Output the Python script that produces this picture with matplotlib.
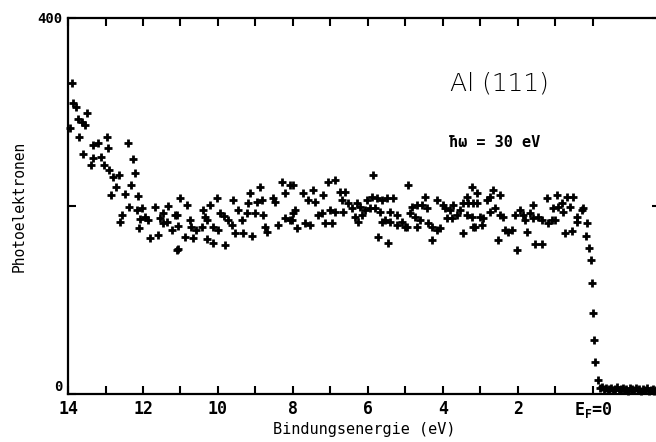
import numpy as np
import matplotlib
matplotlib.use('Agg')
import matplotlib.pyplot as pl

# (binding energy eV, counts)
onset = [(13.89, 331), (13.87, 310), (13.95, 283), (13.79, 305), (13.73, 293),
         (13.63, 289), (13.49, 299), (13.55, 286), (13.71, 273), (13.60, 255),
         (13.33, 265), (13.20, 267), (12.96, 273), (12.40, 267), (12.93, 262),
         (13.33, 251), (13.12, 252), (13.39, 244), (13.04, 244), (12.90, 238),
         (12.80, 231), (12.64, 233), (12.72, 220), (12.27, 250), (12.21, 235),
         (12.32, 222), (12.85, 212), (12.48, 213), (12.13, 211), (12.37, 199),
         (12.56, 190), (12.61, 183), (12.16, 196), (12.03, 198), (12.08, 186),
         (11.95, 188), (12.11, 177), (11.87, 185), (11.81, 166), (11.60, 169),
         (11.68, 199), (11.55, 187), (11.47, 193), (11.33, 200), (11.36, 183),
         (11.23, 174), (11.15, 190), (11.09, 153), (11.47, 182)]

band_11_8 = [(11.01, 208), (10.83, 201), (11.09, 190), (11.07, 179), (11.07, 154),
             (10.75, 185), (10.72, 178), (10.59, 174), (10.88, 167), (10.67, 166),
             (10.40, 196), (10.21, 201), (10.35, 188), (10.29, 185), (10.43, 178),
             (10.13, 178), (10.00, 174), (10.03, 208), (9.95, 193), (10.29, 165),
             (10.13, 161), (9.81, 158), (9.84, 189), (9.73, 185), (9.63, 180),
             (9.60, 206), (9.47, 196), (9.36, 185), (9.55, 171), (9.33, 171),
             (9.09, 168), (9.23, 193), (9.20, 203), (9.15, 214), (9.01, 193),
             (8.96, 204), (8.83, 206), (8.88, 220), (8.80, 190), (8.75, 178),
             (8.69, 172), (8.53, 208), (8.48, 204), (8.29, 226), (8.08, 222),
             (8.21, 214), (8.40, 180), (8.21, 187), (8.08, 185), (8.00, 193)]

band_8_5 = [(8.00, 222), (7.95, 196), (8.03, 185), (7.89, 177), (7.73, 214),
            (7.60, 206), (7.47, 217), (7.41, 204), (7.20, 212), (7.23, 193),
            (7.33, 190), (7.68, 182), (7.55, 180), (7.15, 182), (6.96, 182),
            (7.07, 226), (6.88, 228), (7.01, 196), (6.88, 194), (6.75, 215),
            (6.61, 215), (6.69, 206), (6.53, 203), (6.67, 194), (6.43, 198),
            (6.29, 203), (6.21, 199), (6.35, 188), (6.16, 190), (6.08, 196),
            (6.27, 183), (6.03, 206), (5.89, 210), (5.76, 208), (5.63, 206),
            (5.49, 208), (5.33, 208), (5.87, 233), (5.95, 198), (5.81, 198),
            (5.68, 194), (5.55, 185), (5.63, 183), (5.41, 194), (5.41, 183),
            (5.23, 190), (5.23, 180), (5.09, 183), (5.01, 178), (5.73, 167),
            (5.47, 161)]

band_5_2 = [(4.93, 222), (4.83, 199), (4.88, 193), (4.69, 201), (4.56, 201),
            (4.43, 198), (4.48, 210), (4.75, 188), (4.61, 185), (4.96, 178),
            (4.69, 178), (4.40, 182), (4.29, 178), (4.16, 174), (4.08, 177),
            (4.29, 164), (4.16, 206), (4.00, 201), (3.95, 198), (3.81, 196),
            (3.73, 201), (3.89, 187), (3.76, 187), (3.63, 190), (3.55, 196),
            (3.47, 203), (3.36, 210), (3.23, 220), (3.09, 214), (3.33, 203),
            (3.20, 203), (3.09, 203), (3.36, 190), (3.23, 188), (3.15, 178),
            (3.01, 188), (2.93, 187), (2.96, 180), (2.83, 206), (2.75, 210),
            (2.67, 217), (2.48, 212), (2.61, 198), (2.48, 190), (2.40, 188),
            (2.75, 194), (3.47, 171), (3.20, 178), (2.35, 174), (2.27, 172),
            (2.16, 174), (2.53, 164), (2.03, 153), (2.08, 190)]

band_2_0 = [(1.95, 196), (1.87, 190), (1.81, 185), (1.76, 172), (1.68, 193),
            (1.60, 201), (1.60, 187), (1.47, 188), (1.36, 185), (1.55, 160),
            (1.36, 160), (1.23, 208), (1.20, 182), (1.09, 185), (1.01, 185),
            (1.07, 198), (0.96, 212), (0.93, 199), (0.83, 203), (0.80, 194),
            (0.69, 210), (0.61, 199), (0.53, 210), (0.43, 188), (0.29, 196),
            (0.27, 198), (0.75, 171), (0.56, 173), (0.43, 183)]

fermi_edge = [(0.16, 182), (0.19, 168), (0.11, 155), (0.05, 143), (0.03, 118),
              (0.00, 86), (-0.03, 57), (-0.05, 34), (-0.13, 15), (-0.19, 6)]

above_ef = [(-0.24, 7), (-0.29, 5), (-0.34, 6), (-0.39, 4), (-0.44, 5),
            (-0.49, 6), (-0.54, 4), (-0.59, 5), (-0.64, 7), (-0.69, 4),
            (-0.74, 5), (-0.79, 6), (-0.84, 4), (-0.89, 5), (-0.94, 3),
            (-0.99, 6), (-1.04, 5), (-1.09, 4), (-1.14, 6), (-1.19, 4),
            (-1.24, 5), (-1.29, 3), (-1.34, 5), (-1.39, 4), (-1.44, 6),
            (-1.49, 3), (-1.54, 4), (-1.59, 5), (-1.64, 3), (-1.69, 4)]

xticks = [14, 12, 10, 8, 6, 4, 2, 0]
xticklabels = ['14', '12', '10', '8', '6', '4', '2', 'E$_F$=0']
yticks = [0, 200, 400]
yticklabels = ['0', '', '400']

pl.rcParams['mathtext.default'] = 'regular'
mono = 'DejaVu Sans Mono'

fig = pl.figure(figsize=(6.56, 4.42), dpi=100)
ax = fig.add_axes([0.1037, 0.1086, 0.9024, 0.8507])

for part in [onset, band_11_8, band_8_5, band_5_2, band_2_0, fermi_edge, above_ef]:
    d = np.array(part)
    ax.plot(d[:, 0], d[:, 1], '+', color='k', ms=5.5, mew=2, clip_on=False)

ax.set_xlim(14, -1.79)
ax.set_ylim(0, 400)

ax.set_xticks(xticks)
ax.set_xticklabels(xticklabels, family=mono, weight='bold', fontsize=12)
ax.set_xticks(np.arange(13, -1, -2), minor=True)
ax.set_yticks(yticks)
ax.set_yticklabels(yticklabels, family=mono, weight='bold', fontsize=10)
ax.get_yticklabels()[0].set_va('bottom')
ax.tick_params(which='both', direction='in', length=6, width=1.5,
               top=True, right=True, pad=4)

for s in ax.spines.values():
    s.set_linewidth(1.6)

ax.set_xlabel('Bindungsenergie (eV)', family=mono, fontsize=11, labelpad=2)
ax.set_ylabel('Photoelektronen', family=mono, fontsize=10.5, labelpad=8)

ax.text(0.645, 0.827, 'Al (111)', transform=ax.transAxes,
        fontsize=18, family='DejaVu Sans', weight='light', va='center')
ax.text(0.644, 0.67, 'ħω = 30 eV', transform=ax.transAxes,
        fontsize=11, family=mono, weight='bold', va='center')

fig.savefig('out.png', dpi=100)
pl.close(fig)
